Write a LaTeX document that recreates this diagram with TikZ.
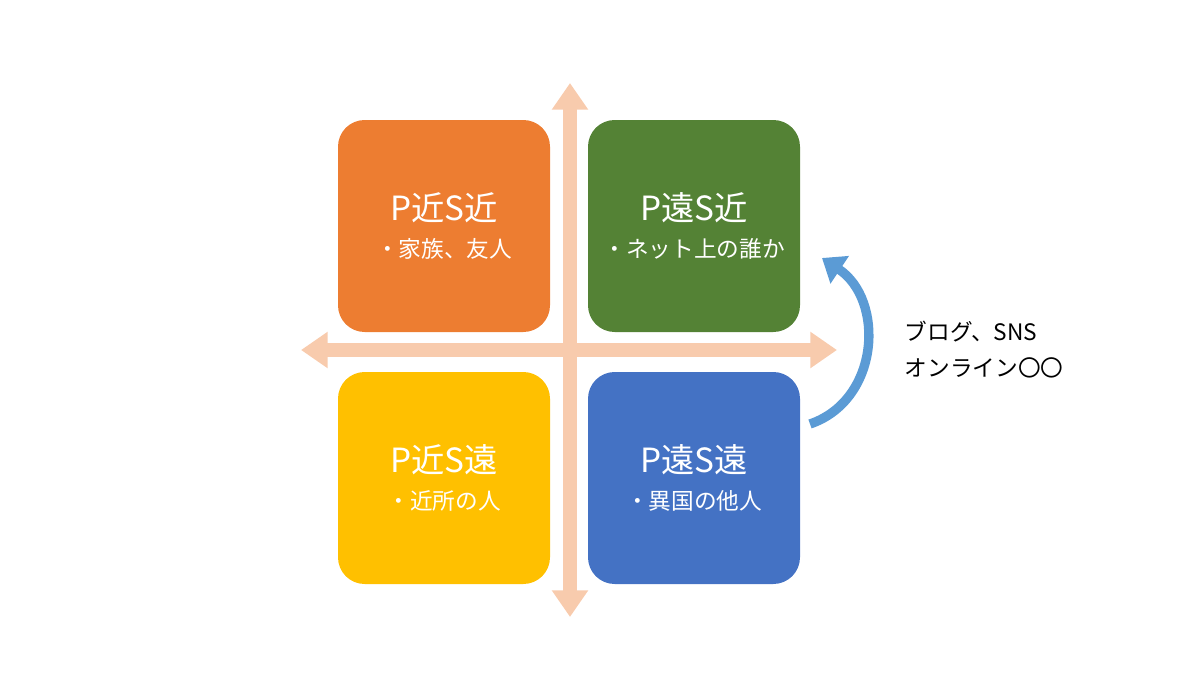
\documentclass[tikz,border=0pt]{standalone}
\usepackage{fontspec}
\setmainfont{Noto Sans CJK JP}
\usetikzlibrary{arrows.meta}
\definecolor{cO}{HTML}{ED7D31}
\definecolor{cG}{HTML}{548235}
\definecolor{cY}{HTML}{FFC000}
\definecolor{cB}{HTML}{4472C4}
\definecolor{cP}{HTML}{F8CBAD}
\definecolor{cA}{HTML}{5B9BD5}
\newcommand{\subsz}{\fontsize{17pt}{20pt}\selectfont}
\begin{document}
\begin{tikzpicture}[x=0.75pt,y=-0.75pt,
  box/.style={rounded corners=20pt,minimum width=159pt,minimum height=159pt,inner sep=0pt,text=white,align=center,font=\fontsize{25pt}{30pt}\selectfont},
  axis/.style={draw=cP,line width=10pt,-{Triangle[length=20pt,width=26pt]}}]
\useasboundingbox (0,0) rectangle (1200,675);
\coordinate (vt) at (570,83); \coordinate (vb) at (570,617);
\coordinate (hl) at (301,350); \coordinate (hr) at (837,350);
\coordinate (o) at (570,350);
\draw[axis] (o) -- (vt);
\draw[axis] (o) -- (vb);
\draw[axis] (o) -- (hl);
\draw[axis] (o) -- (hr);
\node[box,fill=cO] (a) at (444,226) {P近S近\\[-2pt]{\subsz ・家族、友人}};
\node[box,fill=cG] (b) at (694,226) {P遠S近\\[-2pt]{\subsz ・ネット上の誰か}};
\node[box,fill=cY] (c) at (444,478) {P近S遠\\[-2pt]{\subsz ・近所の人}};
\node[box,fill=cB] (d) at (694,478) {P遠S遠\\[-2pt]{\subsz ・異国の他人}};
\coordinate (s) at (810,424);
\coordinate (e) at (822,258);
\draw[cA,line width=7pt,-{Triangle[length=16pt,width=24pt]}] (s) .. controls (880,400) and (885,300) .. (e);
\node[anchor=west,align=left,font=\fontsize{17pt}{27pt}\selectfont] (t) at (900,350) {ブログ、SNS\\オンライン〇〇};
\end{tikzpicture}
\end{document}
